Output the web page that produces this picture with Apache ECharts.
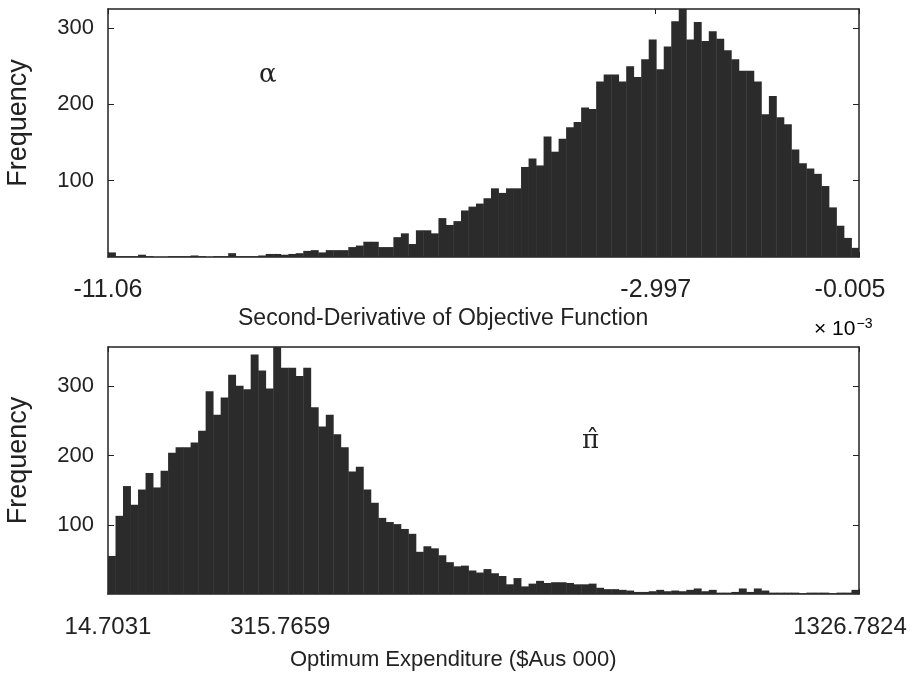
<!DOCTYPE html>
<html>
<head>
<meta charset="utf-8">
<script src="https://cdn.jsdelivr.net/npm/echarts@6/dist/echarts.min.js"></script>
<style>
  html, body { margin: 0; padding: 0; background: #fff; }
  #chart { width: 912px; height: 677px; }
</style>
</head>
<body>
<div id="chart"></div>
<script>
// top panel: second derivative (x 10^-3), 100 bins
const topRange = [-11.06, -0.005];
const topTicks = [-11.06, -2.997, -0.005];
const topCounts = [
  6, 1, 1, 1, 3, 1, 0, 0, 1, 1,
  1, 2, 1, 0, 1, 1, 5, 1, 1, 1,
  2, 4, 4, 3, 4, 5, 8, 9, 6, 9,
  9, 9, 13, 15, 20, 20, 13, 13, 26, 31,
  17, 35, 35, 31, 51, 42, 47, 61, 66, 70,
  77, 90, 84, 90, 90, 118, 129, 120, 158, 138,
  155, 170, 177, 196, 194, 230, 239, 239, 230, 250,
  236, 259, 285, 246, 276, 309, 325, 285, 308, 283,
  296, 286, 271, 259, 244, 244, 230, 187, 211, 183,
  174, 141, 123, 116, 109, 93, 65, 41, 25, 12
];

// bottom panel: optimum expenditure, 100 bins
const botRange = [14.7031, 1326.7824];
const botTicks = [14.7031, 315.7659, 1326.7824];
const botCounts = [
  55, 113, 156, 129, 151, 175, 154, 178, 204, 212,
  212, 219, 236, 293, 259, 284, 317, 301, 296, 346,
  323, 297, 360, 327, 327, 315, 327, 270, 242, 259,
  231, 212, 177, 184, 151, 132, 110, 104, 101, 94,
  87, 61, 69, 66, 56, 46, 40, 41, 34, 31,
  36, 30, 26, 14, 23, 11, 15, 19, 16, 17,
  17, 16, 14, 14, 15, 9, 7, 7, 6, 5,
  3, 3, 4, 6, 4, 5, 4, 6, 8, 4,
  6, 2, 2, 3, 8, 3, 8, 5, 2, 2,
  2, 2, 1, 2, 2, 2, 1, 2, 2, 6
];

const freqTicks = [100, 200, 300];

const FONT = 'Liberation Sans';
const INK = '#222';

// turn counts into [start, end, count] rows
function toBins(range, counts) {
  const w = (range[1] - range[0]) / counts.length;
  return counts.map((c, i) => [range[0] + i * w, range[0] + (i + 1) * w, c]);
}

function histItem(params, api) {
  const p0 = api.coord([api.value(0), api.value(2)]);
  const p1 = api.coord([api.value(1), 0]);
  return {
    type: 'rect',
    shape: { x: p0[0], y: p0[1], width: p1[0] - p0[0] + 0.4, height: p1[1] - p0[1] },
    style: { fill: '#2b2b2b' }
  };
}

function xAxisFor(gridIndex, range, ticks, position, showLabels, size) {
  return {
    type: 'value', gridIndex, position,
    min: range[0], max: range[1],
    axisLine: { show: true, onZero: false, lineStyle: { color: INK, width: 1.5 } },
    axisTick: { show: true, inside: true, length: 5, customValues: ticks, lineStyle: { color: INK } },
    axisLabel: {
      show: showLabels, customValues: ticks,
      // last label is nudged left so it stays inside the page
      formatter: v => (v === range[1] ? '{r|' + v + '}' : String(v)),
      rich: { r: { fontFamily: FONT, fontSize: size, color: INK, padding: [0, 18, 0, 0] } },
      fontFamily: FONT, fontSize: size, color: INK, margin: 21
    },
    splitLine: { show: false }
  };
}

function yAxisFor(gridIndex, max, position, showLabels) {
  return {
    type: 'value', gridIndex, position,
    min: 0, max,
    name: showLabels ? 'Frequency' : '',
    nameLocation: 'middle', nameRotate: 90, nameGap: 76,
    nameTextStyle: { fontFamily: FONT, fontSize: 27, color: INK, padding: [0, 0, 0, 20] },
    axisLine: { show: true, onZero: false, lineStyle: { color: INK, width: 1.5 } },
    axisTick: { show: true, inside: true, length: 6, customValues: freqTicks, lineStyle: { color: INK } },
    axisLabel: {
      show: showLabels, customValues: freqTicks,
      fontFamily: FONT, fontSize: 22, color: INK, margin: 14
    },
    splitLine: { show: false }
  };
}

const chart = echarts.init(document.getElementById('chart'));

chart.setOption({
  backgroundColor: '#fff',
  animation: false,
  grid: [
    { left: 108, width: 751, top: 9, height: 248, outerBoundsMode: 'none', containLabel: false },
    { left: 108, width: 751, top: 347, height: 247, outerBoundsMode: 'none', containLabel: false }
  ],
  xAxis: [
    xAxisFor(0, topRange, topTicks, 'bottom', true, 25),
    xAxisFor(0, topRange, topTicks, 'top', false, 25),
    xAxisFor(1, botRange, botTicks, 'bottom', true, 24),
    xAxisFor(1, botRange, botTicks, 'top', false, 24)
  ],
  yAxis: [
    yAxisFor(0, 325, 'left', true),
    yAxisFor(0, 325, 'right', false),
    yAxisFor(1, 357, 'left', true),
    yAxisFor(1, 357, 'right', false)
  ],
  series: [
    { type: 'custom', xAxisIndex: 0, yAxisIndex: 0, clip: true, renderItem: histItem,
      encode: { x: [0, 1], y: 2 }, data: toBins(topRange, topCounts) },
    { type: 'custom', xAxisIndex: 2, yAxisIndex: 2, clip: true, renderItem: histItem,
      encode: { x: [0, 1], y: 2 }, data: toBins(botRange, botCounts) }
  ],
  graphic: [
    { type: 'text', left: 259, top: 62,
      style: { text: 'α', font: '26px "DejaVu Serif"', fill: INK } },
    { type: 'text', left: 582, top: 428,
      style: { text: 'π̂', font: '26px "DejaVu Serif"', fill: INK } },
    { type: 'text', left: 238, top: 307,
      style: { text: 'Second-Derivative of Objective Function', font: '23px "Liberation Sans"', fill: INK } },
    { type: 'text', left: 814, top: 317,
      style: {
        text: '{a|× 10}{b|−3}',
        rich: {
          a: { fontFamily: FONT, fontSize: 21, color: INK },
          b: { fontFamily: FONT, fontSize: 14, color: INK, verticalAlign: 'top', padding: [0, 0, 10, 1] }
        }
      } },
    { type: 'text', left: 290, top: 649,
      style: { text: 'Optimum Expenditure ($Aus 000)', font: '22px "Liberation Sans"', fill: INK } }
  ]
});
</script>
</body>
</html>
